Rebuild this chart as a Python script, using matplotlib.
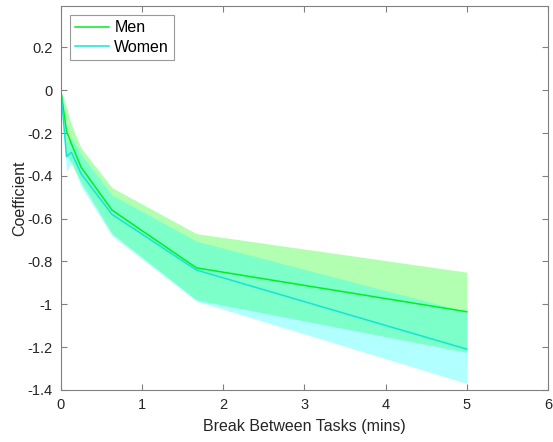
import matplotlib
matplotlib.use("Agg")
import matplotlib.pyplot as plt

# break between tasks (mins)
breaks = [0, 0.07, 0.13, 0.25, 0.63, 1.67, 5]

men = [0, -0.19, -0.25, -0.36, -0.56, -0.83, -1.035]
men_hi = [0, -0.08, -0.16, -0.27, -0.455, -0.67, -0.85]
men_lo = [0, -0.30, -0.34, -0.43, -0.67, -0.98, -1.225]

women = [0, -0.31, -0.29, -0.39, -0.58, -0.84, -1.21]
women_hi = [0, -0.24, -0.22, -0.30, -0.49, -0.705, -1.035]
women_lo = [0, -0.38, -0.335, -0.45, -0.68, -0.985, -1.37]

yticks = [-1.4, -1.2, -1, -0.8, -0.6, -0.4, -0.2, 0, 0.2]
ytick_labels = ["-1.4", "-1.2", "-1", "-0.8", "-0.6", "-0.4", "-0.2", "0", "0.2"]

plt.rcParams["font.family"] = ["Liberation Sans", "DejaVu Sans"]
plt.rcParams["axes.unicode_minus"] = False

fig = plt.figure(figsize=(5.53, 4.42), dpi=100)
ax = fig.add_axes([0.110, 0.118, 0.881, 0.869])

ax.fill_between(breaks, men_lo, men_hi, color=(0, 1, 0), alpha=0.3, lw=0)
ax.fill_between(breaks, women_lo, women_hi, color=(0, 1, 1), alpha=0.3, lw=0)
ax.plot(breaks, men, color="#00ee22", lw=1.1, label="Men")
ax.plot(breaks, women, color="#10e6d6", lw=1.1, label="Women")

ax.set_xlim(0, 6)
ax.set_ylim(-1.4, 0.395)
ax.set_yticks(yticks)
ax.set_yticklabels(ytick_labels)
ax.set_xticks(range(7))

gray = "#262626"
for s in ax.spines.values():
    s.set_color("#808080")
    s.set_linewidth(0.8)
ax.tick_params(direction="in", top=True, right=True, length=4, width=0.8,
               color="#808080", labelsize=10.5, labelcolor=gray, pad=6)

ax.set_xlabel("Break Between Tasks (mins)", fontsize=11.5, color=gray, labelpad=5)
ax.set_ylabel("Coefficient", fontsize=11.5, color=gray, labelpad=0)

leg = ax.legend(loc="upper left", fontsize=11.5, frameon=True, fancybox=False,
                handlelength=2.1, handletextpad=0.35, borderpad=0.3,
                labelspacing=0.3, borderaxespad=0.6)
leg.get_frame().set_edgecolor("#808080")
leg.get_frame().set_linewidth(0.8)

fig.savefig("out.png", dpi=100)
